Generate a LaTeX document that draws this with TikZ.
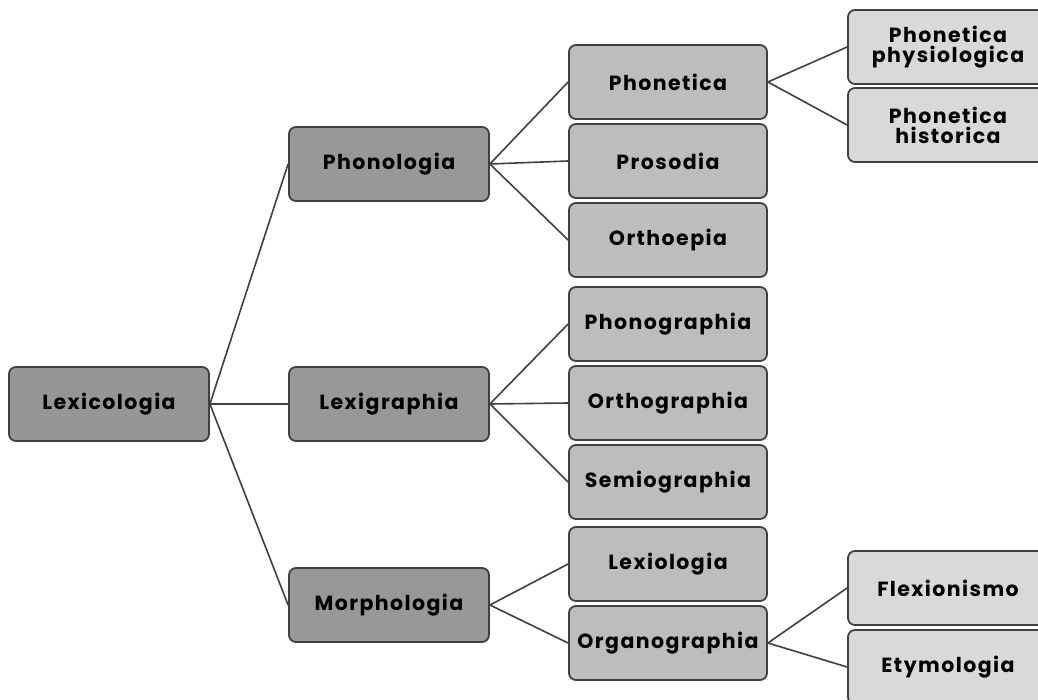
\documentclass[tikz,border=0pt]{standalone}
\usepackage{fontspec}
\newfontfamily\boxfont{Poppins}[UprightFont={* Bold},LetterSpace=7]
\definecolor{rootfill}{HTML}{969696}
\definecolor{midfill}{HTML}{989898}
\definecolor{leaffill}{HTML}{BDBDBD}
\definecolor{tipfill}{HTML}{D9D9D9}
\definecolor{edgecol}{HTML}{404040}
\begin{document}
\begin{tikzpicture}[x=1pt,y=-1pt,
  box/.style={draw=edgecol,line width=1.8pt,rounded corners=7pt,
    minimum height=74pt,align=center,inner sep=2pt,
    font=\boxfont\fontsize{20.5}{19}\selectfont},
  rootbox/.style={box,fill=rootfill,minimum width=200pt},
  midbox/.style={box,fill=midfill,minimum width=200pt},
  leafbox/.style={box,fill=leaffill,minimum width=198pt},
  tipbox/.style={box,fill=tipfill,minimum width=200pt},
  link/.style={draw=edgecol,line width=1.6pt}]
\useasboundingbox (0,0) rectangle (1038,700);
\clip (0,0) rectangle (1038,700);
% root
\node[rootbox] (lex) at (109,404) {Lexicologia};
% first level
\node[midbox] (phon) at (389,164) {Phonologia};
\node[midbox] (lexg) at (389,404) {Lexigraphia};
\node[midbox] (morph) at (389,605) {Morphologia};
% second level
\node[leafbox] (phnt) at (668,82) {Phonetica};
\node[leafbox] (pros) at (668,161) {Prosodia};
\node[leafbox] (orth) at (668,240) {Orthoepia};
\node[leafbox] (phng) at (668,324) {Phonographia};
\node[leafbox] (orgr) at (668,403) {Orthographia};
\node[leafbox] (semi) at (668,482) {Semiographia};
\node[leafbox] (lexi) at (668,564) {Lexiologia};
\node[leafbox] (orga) at (668,643) {Organographia};
% third level
\node[tipbox] (physio) at (948,47) {Phonetica\\[1pt]physiologica};
\node[tipbox] (hist) at (948,125) {Phonetica\\[1pt]historica};
\node[tipbox] (flex) at (948,588) {Flexionismo};
\node[tipbox] (etym) at (948,667) {Etymologia};
% connectors
\foreach \a/\b in {lex/phon,lex/lexg,lex/morph,
  phon/phnt,phon/pros,phon/orth,
  lexg/phng,lexg/orgr,lexg/semi,
  morph/lexi,morph/orga,
  phnt/physio,phnt/hist,
  orga/flex,orga/etym}
  \draw[link] (\a.east) -- (\b.west);
\end{tikzpicture}
\end{document}
